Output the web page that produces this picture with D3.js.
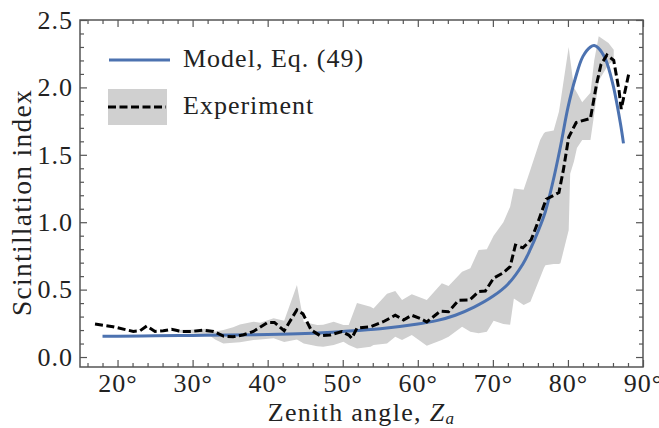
<!DOCTYPE html>
<html>
<head>
<meta charset="utf-8">
<script src="https://cdn.jsdelivr.net/npm/d3@7"></script>
<style>
  html, body { margin: 0; padding: 0; background: #fff; }
  svg text { font-family: "Liberation Serif"; fill: #222; }
</style>
</head>
<body>
<svg id="chart" width="659" height="428"></svg>
<script>
// Model curve, Eq. (49)
const modelAngle = [18, 20, 25, 30, 35, 40, 45, 50, 55, 60, 62.5, 65, 67.5, 70, 72, 74, 75, 76, 77, 78, 79, 80, 81, 82, 83, 83.5, 84, 85, 86, 87, 87.4];
const modelValue = [0.155, 0.155, 0.157, 0.16, 0.163, 0.167, 0.175, 0.19, 0.21, 0.245, 0.27, 0.31, 0.37, 0.45, 0.54, 0.69, 0.80, 0.93, 1.08, 1.30, 1.56, 1.85, 2.07, 2.23, 2.30, 2.31, 2.295, 2.21, 2.02, 1.73, 1.585];

// Measured scintillation index (mean)
const expAngle = [17, 19.4, 22.1, 23, 23.9, 25, 26.1, 27.2, 28.5, 29.9, 31.4, 32.8, 34.1, 35.4, 36.8, 38.1, 40, 40.9, 42.2, 43.9, 44.7, 45.8, 47, 48.3, 49.9, 50.8, 51.2, 51.9, 53.7, 55.4, 57, 58.1, 59.2, 60.3, 61.2, 63, 64.1, 65.4, 66.9, 68.1, 69, 70.1, 71.4, 72.3, 73, 74, 75.1, 76, 77.1, 78.8, 79.4, 80.1, 81.1, 83, 83.8, 84.4, 85.2, 86.1, 86.8, 87.1, 88.1];
const expValue = [0.245, 0.225, 0.19, 0.195, 0.23, 0.19, 0.195, 0.205, 0.19, 0.19, 0.20, 0.19, 0.155, 0.15, 0.165, 0.19, 0.257, 0.257, 0.195, 0.35, 0.32, 0.20, 0.158, 0.163, 0.188, 0.163, 0.139, 0.215, 0.225, 0.262, 0.31, 0.275, 0.31, 0.287, 0.26, 0.34, 0.336, 0.42, 0.423, 0.485, 0.49, 0.585, 0.625, 0.67, 0.83, 0.81, 0.87, 1.0, 1.17, 1.22, 1.39, 1.63, 1.74, 1.77, 2.02, 2.17, 2.24, 2.20, 1.98, 1.84, 2.10];

// Spread of the measurements
const bandAngle = [28, 30, 32, 33, 34.1, 35.4, 36.3, 38.1, 39, 40.8, 42.2, 43.9, 44.8, 46.6, 47.4, 48.8, 50.1, 50.8, 51.9, 53.7, 54.1, 55.9, 57, 57.9, 59.2, 61.2, 63.2, 64.1, 65.9, 67, 68.1, 69.2, 70.1, 71.4, 72.3, 72.8, 74.1, 75, 76.3, 76.8, 77, 78.1, 78.8, 79, 80.1, 80.3, 80.8, 81.2, 81.9, 83, 83.5, 84.1, 85.4, 86.1];
const bandLow  = [0.18, 0.175, 0.17, 0.13, 0.10, 0.105, 0.11, 0.126, 0.13, 0.14, 0.112, 0.13, 0.10, 0.08, 0.076, 0.09, 0.114, 0.09, 0.064, 0.076, 0.09, 0.10, 0.15, 0.126, 0.163, 0.084, 0.126, 0.15, 0.225, 0.188, 0.176, 0.188, 0.27, 0.245, 0.24, 0.435, 0.386, 0.41, 0.59, 0.66, 0.68, 0.69, 0.69, 0.695, 0.94, 1.36, 1.45, 1.55, 1.61, 1.61, 1.80, 2.05, 2.17, 2.20];
const bandHigh = [0.20, 0.205, 0.21, 0.19, 0.20, 0.22, 0.242, 0.262, 0.255, 0.287, 0.27, 0.534, 0.26, 0.237, 0.24, 0.262, 0.237, 0.237, 0.40, 0.373, 0.36, 0.47, 0.49, 0.423, 0.465, 0.423, 0.547, 0.527, 0.633, 0.658, 0.794, 0.80, 0.90, 1.0, 1.115, 1.25, 1.24, 1.39, 1.61, 1.66, 1.67, 1.68, 1.82, 1.89, 2.30, 2.21, 2.0, 1.96, 1.89, 1.96, 2.20, 2.38, 2.33, 2.28];

const xMajor = [20, 30, 40, 50, 60, 70, 80, 90];
const xMinor = d3.range(16, 91, 2).filter(v => v % 10 !== 0);
const yMajor = [0.0, 0.5, 1.0, 1.5, 2.0, 2.5];
const yMinor = d3.range(0, 2.5, 0.1).map(v => +v.toFixed(1)).filter(v => Math.round(v * 10) % 5 !== 0);

const xLabel = "Zenith angle, ";
const yLabel = "Scintillation index";
const modelName = "Model, Eq. (49)";
const expName = "Experiment";

const FONT = '"Liberation Serif"';
const plot = { left: 80, right: 643, top: 20, bottom: 367 };
const blue = "#4c72b0", band = "#d0d0d0", frameColor = "#555";

const svg = d3.select("#chart");
const x = d3.scaleLinear().domain([15, 90]).range([plot.left, plot.right]);
const y = d3.scaleLinear().domain([-0.074, 2.5]).range([plot.bottom, plot.top]);

// Grey spread band
const bandData = bandAngle.map((a, i) => ({ a, lo: bandLow[i], hi: bandHigh[i] }));
svg.append("path")
  .datum(bandData)
  .attr("fill", band)
  .attr("d", d3.area().x(d => x(d.a)).y0(d => y(d.lo)).y1(d => y(d.hi)));

// Model curve
const modelData = modelAngle.map((a, i) => ({ a, v: modelValue[i] }));
svg.append("path")
  .datum(modelData)
  .attr("fill", "none")
  .attr("stroke", blue)
  .attr("stroke-width", 3)
  .attr("d", d3.line().x(d => x(d.a)).y(d => y(d.v)).curve(d3.curveCatmullRom.alpha(0.5)));

// Experimental mean
const expData = expAngle.map((a, i) => ({ a, v: expValue[i] }));
svg.append("path")
  .datum(expData)
  .attr("fill", "none")
  .attr("stroke", "#000")
  .attr("stroke-width", 3)
  .attr("stroke-dasharray", "8,3.5")
  .attr("d", d3.line().x(d => x(d.a)).y(d => y(d.v)));

// Axes with inward ticks on all four sides
function styleAxis(g) {
  g.attr("font-family", null).attr("font-size", null);
  g.select(".domain").remove();
  g.selectAll(".tick line").attr("stroke", frameColor).attr("stroke-width", 1.2);
  g.selectAll(".tick text")
    .style("font-family", FONT)
    .style("font-size", "26px")
    .style("letter-spacing", "1px")
    .attr("fill", "#222");
}

svg.append("g").attr("transform", `translate(0,${plot.bottom})`)
  .call(d3.axisBottom(x).tickValues(xMajor).tickSize(-7).tickPadding(6.5).tickFormat(d => d + "°")).call(styleAxis);
svg.append("g").attr("transform", `translate(0,${plot.bottom})`)
  .call(d3.axisBottom(x).tickValues(xMinor).tickSize(-4).tickFormat("")).call(styleAxis);
svg.append("g").attr("transform", `translate(0,${plot.top})`)
  .call(d3.axisTop(x).tickValues(xMajor).tickSize(-7).tickFormat("")).call(styleAxis);
svg.append("g").attr("transform", `translate(0,${plot.top})`)
  .call(d3.axisTop(x).tickValues(xMinor).tickSize(-4).tickFormat("")).call(styleAxis);

svg.append("g").attr("transform", `translate(${plot.left},0)`)
  .call(d3.axisLeft(y).tickValues(yMajor).tickSize(-7).tickPadding(7).tickFormat(d3.format(".1f"))).call(styleAxis);
svg.append("g").attr("transform", `translate(${plot.left},0)`)
  .call(d3.axisLeft(y).tickValues(yMinor).tickSize(-4).tickFormat("")).call(styleAxis);
svg.append("g").attr("transform", `translate(${plot.right},0)`)
  .call(d3.axisRight(y).tickValues(yMajor).tickSize(-7).tickFormat("")).call(styleAxis);
svg.append("g").attr("transform", `translate(${plot.right},0)`)
  .call(d3.axisRight(y).tickValues(yMinor).tickSize(-4).tickFormat("")).call(styleAxis);

// Frame
svg.append("rect")
  .attr("x", plot.left).attr("y", plot.top)
  .attr("width", plot.right - plot.left).attr("height", plot.bottom - plot.top)
  .attr("fill", "none").attr("stroke", frameColor).attr("stroke-width", 1.5);

// Axis titles
const xt = svg.append("text")
  .attr("x", (plot.left + plot.right) / 2)
  .attr("y", 421)
  .attr("text-anchor", "middle")
  .style("font-family", FONT)
  .style("font-size", "26px")
  .style("letter-spacing", "1.3px");
xt.append("tspan").text(xLabel);
xt.append("tspan").style("font-style", "italic").text("Z");
xt.append("tspan").style("font-style", "italic").style("font-size", "17px").attr("dy", 3).text("a");

svg.append("text")
  .attr("transform", `translate(31,${(plot.top + plot.bottom) / 2 + 9}) rotate(-90)`)
  .attr("text-anchor", "middle")
  .style("font-family", FONT)
  .style("font-size", "27.5px")
  .style("letter-spacing", "1.3px")
  .text(yLabel);

// Legend
const leg = svg.append("g");
leg.append("line")
  .attr("x1", 109).attr("x2", 170).attr("y1", 60).attr("y2", 60)
  .attr("stroke", blue).attr("stroke-width", 3);
leg.append("text").attr("x", 183).attr("y", 67)
  .style("font-family", FONT)
  .style("font-size", "26px").style("letter-spacing", "1px").text(modelName);
leg.append("rect")
  .attr("x", 108).attr("y", 89).attr("width", 59).attr("height", 36)
  .attr("fill", band);
leg.append("line")
  .attr("x1", 108).attr("x2", 166).attr("y1", 107).attr("y2", 107)
  .attr("stroke", "#000").attr("stroke-width", 3).attr("stroke-dasharray", "8,3.5");
leg.append("text").attr("x", 183).attr("y", 114)
  .style("font-family", FONT)
  .style("font-size", "26px").style("letter-spacing", "1px").text(expName);
</script>
</body>
</html>
